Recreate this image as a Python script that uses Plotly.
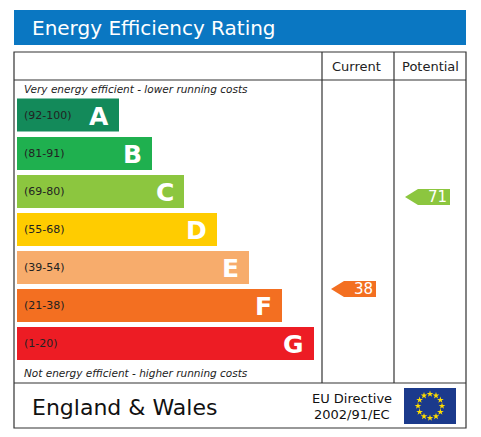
import plotly.graph_objects as go
import numpy as np

bands = ["A", "B", "C", "D", "E", "F", "G"]
ranges = ["(92-100)", "(81-91)", "(69-80)", "(55-68)", "(39-54)", "(21-38)", "(1-20)"]
bar_end = [119, 152, 184, 217, 249, 282, 314]
bar_center = [115, 153.5, 191.5, 229.5, 267.5, 305.5, 343.5]
colors = ["#138a5a", "#1fb04f", "#8cc63f", "#ffcc00", "#f7ac6c", "#f36f21", "#ed1c24"]
current_value = 38
potential_value = 71
arrow_y = {"current": 289, "potential": 197}

fig = go.Figure()
fig.add_trace(go.Bar(x=[e - 17 for e in bar_end], base=17, y=bar_center, orientation="h",
                     width=33, marker=dict(color=colors, line=dict(width=0)), hoverinfo="skip"))

ann = []
for b, r, e, c in zip(bands, ranges, bar_end, bar_center):
    ann.append(dict(x=22, y=c, text=r, showarrow=False, xanchor="left",
                    font=dict(size=11, color="#222", family="DejaVu Sans")))
    ann.append(dict(x=e - 8, y=c + 1, text="<b>" + b + "</b>", showarrow=False, xanchor="right",
                    font=dict(size=25, color="white", family="DejaVu Sans")))

def arrow(x0, y, val, col):
    xs = [x0, x0 + 13, x0 + 45, x0 + 45, x0 + 13, x0]
    ys = [y, y - 8, y - 8, y + 8, y + 8, y]
    fig.add_trace(go.Scatter(x=xs, y=ys, fill="toself", fillcolor=col, mode="lines",
                             line=dict(width=0), hoverinfo="skip"))
    ann.append(dict(x=x0 + 44, y=y, text=str(val), showarrow=False, xanchor="right",
                    font=dict(size=15, color="white", family="DejaVu Sans")))

arrow(331, arrow_y["current"], current_value, colors[5])
arrow(405, arrow_y["potential"], potential_value, colors[2])

shapes = [
    dict(type="rect", x0=14, x1=466, y0=10, y1=45, fillcolor="#0a77c2", line=dict(width=0), layer="below"),
    dict(type="rect", x0=14, x1=466, y0=52, y1=428, line=dict(color="#333", width=1.2)),
    dict(type="line", x0=14, x1=466, y0=80, y1=80, line=dict(color="#333", width=1.2)),
    dict(type="line", x0=14, x1=466, y0=383, y1=383, line=dict(color="#333", width=1.2)),
    dict(type="line", x0=322, x1=322, y0=52, y1=383, line=dict(color="#333", width=1.2)),
    dict(type="line", x0=394, x1=394, y0=52, y1=383, line=dict(color="#333", width=1.2)),
    dict(type="rect", x0=404, x1=456, y0=388, y1=424, fillcolor="#1b3a8c", line=dict(width=0), layer="below"),
]
t = np.linspace(0, 2 * np.pi, 13)[:-1]
fig.add_trace(go.Scatter(x=430 + 12 * np.cos(t), y=406 + 12 * np.sin(t),
                         mode="markers", marker=dict(symbol="star", size=5, color="#ffdd00"),
                         hoverinfo="skip", cliponaxis=False))

ann += [
    dict(x=30, y=28, text="Energy Efficiency Rating", showarrow=False, xanchor="left",
         font=dict(size=20, color="white", family="DejaVu Sans")),
    dict(x=356, y=66, text="Current", showarrow=False, font=dict(size=13, color="#222", family="DejaVu Sans")),
    dict(x=430, y=66, text="Potential", showarrow=False, font=dict(size=13, color="#222", family="DejaVu Sans")),
    dict(x=22, y=89, text="<i>Very energy efficient - lower running costs</i>", showarrow=False, xanchor="left",
         font=dict(size=10.5, color="#222", family="DejaVu Sans")),
    dict(x=22, y=373, text="<i>Not energy efficient - higher running costs</i>", showarrow=False, xanchor="left",
         font=dict(size=10.5, color="#222", family="DejaVu Sans")),
    dict(x=30, y=407, text="England & Wales", showarrow=False, xanchor="left",
         font=dict(size=22, color="#111", family="DejaVu Sans")),
    dict(x=352, y=398, text="EU Directive", showarrow=False, font=dict(size=13, color="#111", family="DejaVu Sans")),
    dict(x=352, y=414, text="2002/91/EC", showarrow=False, font=dict(size=13, color="#111", family="DejaVu Sans")),
]

fig.update_layout(width=481, height=437, margin=dict(l=0, r=0, t=0, b=0), showlegend=False,
                  plot_bgcolor="white", paper_bgcolor="white", shapes=shapes, annotations=ann,
                  xaxis=dict(range=[8, 489], visible=False, fixedrange=True),
                  yaxis=dict(range=[445, 8], visible=False, fixedrange=True))
fig.write_html("out.html", config={"displayModeBar": False})
